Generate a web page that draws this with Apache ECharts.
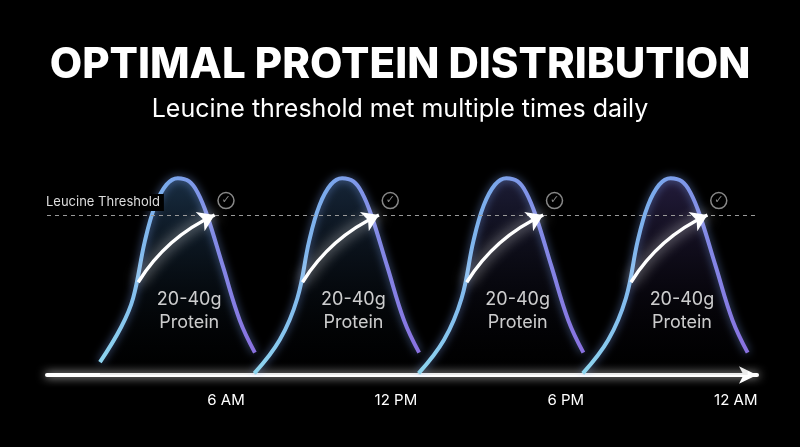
<!DOCTYPE html>
<html><head><meta charset="utf-8">
<script src="https://cdn.jsdelivr.net/npm/echarts@6/dist/echarts.min.js"></script>
<style>html,body{margin:0;background:#000}#c{width:800px;height:447px}</style>
</head><body><div id="c"></div>
<script>
const title = "OPTIMAL PROTEIN DISTRIBUTION";
const subtitle = "Leucine threshold met multiple times daily";
const tickValues = [6, 12, 18, 24];
const tickLabels = ["6 AM", "12 PM", "6 PM", "12 AM"];
const threshold = 100;
const thresholdLabel = "Leucine Threshold";
const mealLabel = "20-40g\nProtein";
const curve1 = [[1.55,8],[2.3,30],[2.72,48],[3.14,84],[3.5,106],[3.9,119],[4.3,123],[4.7,121],[5.0,114],[5.33,100],[5.89,68],[6.49,34],[7.02,14]];
const curve2 = [[7.0,1],[7.9,22],[8.52,48],[8.94,84],[9.3,106],[9.7,119],[10.1,123],[10.5,121],[10.8,114],[11.13,100],[11.69,68],[12.29,34],[12.82,14]];
const curve3 = [[12.8,1],[13.7,22],[14.32,48],[14.74,84],[15.1,106],[15.5,119],[15.9,123],[16.3,121],[16.6,114],[16.93,100],[17.49,68],[18.09,34],[18.62,14]];
const curve4 = [[18.6,1],[19.5,22],[20.12,48],[20.54,84],[20.9,106],[21.3,119],[21.7,123],[22.1,121],[22.4,114],[22.73,100],[23.29,68],[23.89,34],[24.42,14]];
const curves = [curve1, curve2, curve3, curve4];
const arrowStarts = [[2.9,58],[8.7,58],[14.5,58],[20.3,58]];
const arrowEnds = [[5.6,100],[11.4,100],[17.2,100],[23.0,100]];
const checkPoints = [[6.0,109],[11.8,109],[17.6,109],[23.4,109]];
const labelPoints = [[4.7,40],[10.5,40],[16.3,40],[22.1,40]];

const stroke = new echarts.graphic.LinearGradient(0,0,1,0,[{offset:0,color:'#8fd8f0'},{offset:0.45,color:'#7aa8ec'},{offset:1,color:'#8a6fe0'}]);
const fills = ['rgba(70,130,190,0.5)','rgba(70,120,180,0.45)','rgba(90,90,170,0.45)','rgba(100,80,170,0.5)'];
const series = curves.map((c,i)=>({
  type:'line', data:c, smooth:0.4, symbol:'none', z:3,
  lineStyle:{width:4,color:stroke,shadowBlur:8,shadowColor:'rgba(130,170,255,0.6)'},
  areaStyle:{color:new echarts.graphic.LinearGradient(0,0,0,1,[{offset:0,color:fills[i]},{offset:1,color:'rgba(0,0,0,0.1)'}])}
}));
series.push({
  type:'lines', coordinateSystem:'cartesian2d', z:5,
  data: arrowStarts.map((s,i)=>({coords:[s, arrowEnds[i]]})),
  symbol:['none','arrow'], symbolSize:[0,16],
  lineStyle:{color:'#fff',width:3.5,opacity:1,curveness:0.15,shadowBlur:14,shadowColor:'rgba(255,255,255,1)'}
});
series.push({
  type:'scatter', data:checkPoints, symbol:'circle', symbolSize:16, z:6,
  itemStyle:{color:'rgba(0,0,0,0)',borderColor:'#aaa',borderWidth:1.5},
  label:{show:true,position:'inside',formatter:'✓',color:'#aaa',fontSize:11,fontFamily:'DejaVu Sans'}
});
series.push({
  type:'scatter', data:labelPoints, symbolSize:0, z:6,
  label:{show:true,position:'inside',formatter:mealLabel,color:'#fff',fontSize:18,lineHeight:23,fontFamily:'Inter'}
});
series.push({
  type:'line', data:[], z:2,
  markLine:{silent:true,symbol:'none',lineStyle:{color:'#999',type:[4,4],width:1},label:{show:false},data:[{yAxis:threshold}]}
});

const chart = echarts.init(document.getElementById('c'));
chart.setOption({
  backgroundColor:'#000', animation:false,
  title:[{text:title,left:'center',top:39,textStyle:{color:'#fff',fontSize:42,fontWeight:800,fontFamily:'Inter'}},
         {text:subtitle,left:'center',top:92,textStyle:{color:'#fff',fontSize:25,fontWeight:400,fontFamily:'Inter'}},
         {text:thresholdLabel,left:44,top:194,padding:[2,4,2,2],textStyle:{color:'#ddd',fontSize:13,fontWeight:400,fontFamily:'Inter'},backgroundColor:'#000'}],
  grid:{left:47,right:43,top:55,bottom:72},
  xAxis:{type:'value',min:-0.32,max:24.75,splitLine:{show:false},
    axisLine:{onZero:false,symbol:['none','arrow'],symbolSize:[13,18],lineStyle:{color:'#fff',width:4,shadowBlur:10,shadowColor:'rgba(255,255,255,0.9)'}},
    axisTick:{show:false},
    axisLabel:{customValues:tickValues,formatter:v=>tickLabels[tickValues.indexOf(v)]||'',color:'#fff',fontSize:15,margin:18,fontFamily:'Inter'}},
  yAxis:{type:'value',min:0,max:200,show:false},
  series
});
</script></body></html>
